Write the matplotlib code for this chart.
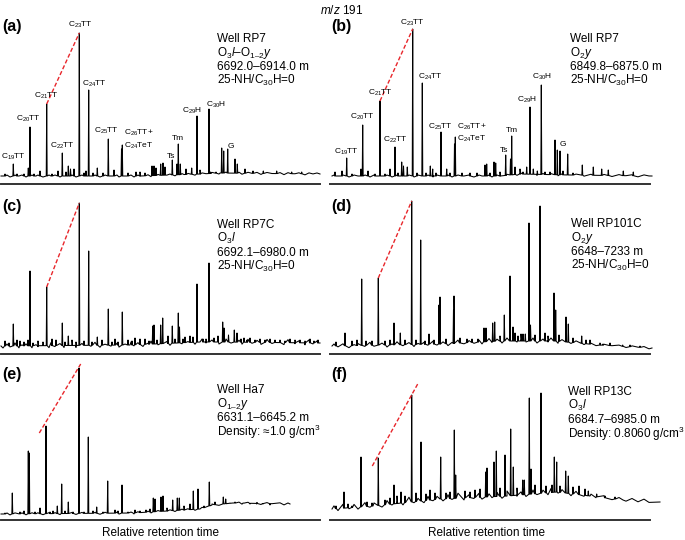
import numpy as np
import matplotlib
matplotlib.use('Agg')
import matplotlib.pyplot as plt

plt.rcParams['font.family'] = ['Liberation Sans', 'DejaVu Sans']
plt.rcParams['mathtext.fontset'] = 'custom'
plt.rcParams['mathtext.rm'] = 'Liberation Sans'
plt.rcParams['mathtext.it'] = 'Liberation Sans:italic'
plt.rcParams['mathtext.bf'] = 'Liberation Sans:bold'

# ---- data (retention, abundance) ----
# (a) Well RP7, O3l-O1-2y
a_base_x = [1, 140, 200, 220, 320]
a_base_y = [8, 8, 10, 11, 10]
a_rt = [5, 13.3, 17, 24, 28.3, 30, 34, 40, 46.7, 52, 58, 62.3, 66, 68.3, 70.5, 74, 79.3, 84, 86, 88.7,
        93, 97.3, 103, 108.3, 114, 121.5, 122.3, 128, 136, 140, 145, 152, 154, 156, 160.7, 163, 165,
        172.3, 177, 178.3, 180.3, 186, 191.7, 197, 200, 209, 210.7, 216, 221.7, 223.7, 227.7, 235,
        237.3, 245, 253, 263.3, 276.7, 291.7, 301.7]
a_h = [10, 20, 10, 10, 16, 57, 10, 13, 80, 10, 13, 31, 12, 18, 15, 15, 151, 11, 13, 94,
       11, 16, 11, 45, 14, 35, 39, 11, 12, 12, 11, 18, 18, 16, 20, 21, 17,
       24, 20, 40, 20, 15, 16, 68, 14, 75, 12, 12, 36, 33, 35, 25,
       20, 15, 13, 13, 13, 12, 12]

# (b) Well RP7, O2y
b_base_x = [-8, 160, 180, 230, 312]
b_base_y = [8, 8, 10, 9, 8]
b_rt = [-5, 2, 6.7, 12, 21, 22.7, 28, 35, 40, 45, 50, 55, 58, 61.7, 63.5, 67.3, 72.7, 77, 82.3, 86,
        90.3, 92.7, 96, 101, 106.7, 110, 114.5, 115.3, 122, 130, 137, 145, 146.7, 150, 154, 155.7,
        160, 165.7, 170.5, 171.7, 175, 180, 183, 186.7, 190, 193.3, 197.3, 201.3, 205, 210, 215,
        217.3, 220, 223, 227.7, 233, 242.3, 253.3, 261.7, 268.3, 283.3, 293.3]
b_h = [12, 13, 26, 10, 15, 59, 13, 10, 83, 10, 15, 37, 11, 22, 18, 17, 155, 11, 101, 11,
       18, 15, 11, 52, 15, 11, 40, 47, 11, 11, 11, 19, 20, 11, 22, 21,
       12, 29, 25, 48, 17, 15, 12, 17, 77, 15, 13, 99, 12, 12, 44,
       34, 33, 13, 30, 11, 19, 17, 15, 14, 13, 12]

# (c) Well RP7C, O3l
c_base_x = [1, 130, 200, 225, 320]
c_base_y = [8, 9, 12, 12, 11]
c_rt = [5, 9, 13.3, 17, 20, 24, 28, 30, 33, 38, 43, 46.7, 52, 56, 62.3, 65, 68.3, 72, 76, 79.3, 84,
        88.7, 92, 97.3, 102, 108.3, 112, 115, 118, 122.3, 128, 132, 135, 140, 145, 149, 152.7, 154,
        157, 160.7, 162.7, 168, 172.3, 175, 178.3, 179.5, 183, 185, 190, 193, 197, 203, 206, 209,
        214, 218, 222.7, 224, 228.5, 234.3, 237, 241, 244, 247, 250, 255, 260, 265, 270, 275, 280,
        285, 290, 295, 300, 305, 310, 314, 318]
c_h = [13, 11, 30, 14, 13, 12, 14, 83, 11, 13, 12, 67, 15, 14, 31, 12, 18, 14, 12, 151, 13,
       103, 12, 17, 14, 45, 12, 15, 12, 42, 14, 13, 16, 15, 15, 13, 28, 29,
       14, 29, 36, 18, 28, 15, 41, 27, 15, 17, 18, 17, 70, 15, 15, 91,
       16, 18, 32, 26, 19, 24, 21, 15, 16, 14, 16, 14, 15, 14, 15, 14, 14,
       13, 15, 14, 14, 13, 15, 13, 14]

# (d) Well RP101C, O2y
d_base_x = [-8, 100, 160, 215, 260, 312]
d_base_y = [8, 10, 13, 13, 9, 6]
d_rt = [-4, 5, 12, 17, 21.7, 26, 32, 38.3, 45, 50, 54, 60.3, 65, 71.7, 76, 80.7, 85, 89, 94, 99,
        100, 106, 113.5, 114, 120, 127, 132, 138, 144, 146, 152.7, 154.7, 160, 164.3, 170, 173,
        175, 178, 181, 183, 185.3, 189, 190.5, 195, 200, 205, 208, 214, 215.7, 219, 226, 228.3,
        233, 241.7, 246, 250, 260, 263, 270, 282.7, 290, 300]
d_h = [12, 21, 13, 14, 75, 13, 13, 76, 13, 14, 31, 21, 14, 153, 14, 114, 13, 20, 14, 49,
       57, 15, 44, 58, 16, 15, 15, 15, 26, 26, 31, 32, 18, 39, 78, 27,
       21, 18, 20, 20, 20, 131, 29, 19, 148, 21, 18, 61, 44, 19, 37, 30,
       16, 18, 14, 14, 11, 10, 11, 9, 9, 8]

# (e) Well Ha7, O1-2y
e_base_x = [1, 133, 167, 200, 212, 233, 290]
e_base_y = [6, 7, 9, 11, 15, 17, 16]
e_rt = [5, 12.3, 20, 24, 28.3, 29.3, 35, 40, 46, 50, 53, 57.3, 61.7, 65, 68.3, 73, 79, 84, 88.3,
        93, 96.7, 103, 107.7, 115, 118, 122, 128, 135, 140, 146, 150, 153.3, 155, 161, 163, 167,
        172.7, 177.3, 179.3, 184, 190, 193.3, 198, 204, 209.3, 215, 223.3, 225.7, 230, 235, 243.3,
        250, 256.7, 263, 270]
e_h = [7, 27, 8, 9, 69, 67, 8, 12, 94, 8, 9, 14, 36, 9, 18, 8, 152, 8, 83,
       9, 13, 8, 39, 10, 9, 35, 8, 10, 9, 10, 11, 22, 21, 23, 24, 12,
       20, 22, 22, 14, 16, 29, 31, 14, 38, 18, 23, 21, 17, 18, 17,
       16, 16, 16, 15]

# (f) Well RP13C, O3l
f_base_x = [-8, 33, 100, 167, 217, 250, 283, 320]
f_base_y = [11, 14, 21, 24, 28, 24, 20, 18]
f_rt = [-4, 4, 8, 12, 21, 27, 32, 38.3, 45, 50, 54, 57, 61, 65, 71.7, 76, 81, 86, 90, 95, 100.7,
        106, 110, 114.3, 115.7, 125, 130, 135, 140, 145.7, 147, 154, 156.3, 160, 165, 170.7, 173.3,
        177, 182.7, 184.3, 189.3, 191, 195, 201, 206, 212, 214.3, 216.7, 220, 225.7, 228.3, 233,
        239, 245, 248.3, 256.7, 265, 275]
f_h = [14, 28, 16, 14, 63, 18, 17, 62, 20, 22, 35, 24, 28, 24, 125, 27, 78, 26, 30, 27, 63,
       27, 28, 90, 45, 29, 28, 30, 31, 48, 52, 58, 69, 32, 65, 91, 53,
       32, 40, 40, 122, 51, 35, 127, 34, 35, 63, 58, 34, 49, 44, 33,
       34, 31, 29, 26, 24, 23]

# baseline roughness (offset from baseline)
wig_left = [3, 7, 10, 15, 19, 22, 26, 32, 36, 38,
            43, 49, 51, 55, 60, 64, 72, 76, 82, 91,
            95, 100, 105, 111, 117, 119, 125, 131, 134, 138,
            143, 148, 151, 158, 167, 170, 175, 182, 184, 188,
            195, 202, 206, 212, 219, 226, 231, 239, 242, 248,
            252, 257, 261, 267, 272, 280, 284, 288, 295, 299,
            305, 309, 313, 317]
wig_ae = [0, 1, -1, 1, 0, 1, -1, 1, 0, 1,
          -1, 1, 0, 1, -1, 0, 1, -1, 1, 0,
          1, -1, 1, 0, 1, -1, 0, 1, -1, 1,
          0, 1, -1, 1, 0, 1, -1, 1, 0, 1,
          -1, 1, 0, 1, -1, 1, 0, 1, -1, 1,
          0, 1, -1, 1, 0, 1, -1, 1, 0, 1,
          -1, 1, 0, 1]
wig_c = [-2, 2, -1, 3, -2, 1, 2, -2, 1, -1,
         2, -2, 3, -1, 2, -2, 1, -2, 2, -1,
         3, -2, 1, -1, 2, -2, 1, 3, -1, 2,
         -2, 1, 3, -1, 2, -2, 3, -1, 2, 1,
         -2, 3, -1, 2, -2, 3, -1, 2, -2, 3,
         -1, 2, -2, 3, -1, 2, -2, 3, -1, 2,
         -2, 3, -1, 2]
wig_right = [-6, -2, 3, 9, 14, 18, 25, 30, 34, 42,
             47, 52, 57, 63, 69, 74, 78, 84, 88, 93,
             97, 103, 108, 112, 118, 124, 129, 134, 139, 142,
             149, 152, 157, 162, 167, 177, 181, 186, 193, 197,
             203, 208, 211, 218, 222, 231, 236, 244, 251, 256,
             264, 272, 279, 286, 292, 298, 304, 309]
wig_b = [1, 0, 1, -1, 1, 0, 1, -1, 1, 0,
         1, -1, 1, 0, 1, -1, 1, 0, 1, -1,
         1, 0, 1, -1, 1, 0, 1, -1, 1, 0,
         1, -1, 1, 0, 1, -1, 1, 0, 1, -1,
         1, 0, 1, -1, 1, 0, 1, -1, 1, 0,
         1, -1, 1, 0, 1, -1, 1, 0]
wig_d = [2, -1, 2, -2, 1, 2, -1, 3, -1, 2,
         -2, 1, 3, -1, 2, -2, 1, 2, -1, 3,
         -1, 2, -2, 1, 3, -1, 2, -1, 2, -2,
         3, -1, 2, -2, 3, -1, 2, -1, 3, -2,
         2, -1, 3, -2, 2, -1, 2, -1, 1, -1,
         1, 0, 1, -1, 1, 0, 1, -1]
wig_f = [3, -2, 4, -1, 3, -2, 4, -1, 3, -2,
         4, -1, 3, -2, 5, -1, 3, -2, 4, -1,
         3, -2, 4, -1, 5, -2, 3, -1, 4, -2,
         3, -1, 4, -2, 5, -1, 3, -2, 4, -1,
         3, -2, 4, -1, 3, -2, 3, -1, 2, -1,
         2, -1, 2, -1, 2, -1, 2, -1]

# peak labels for (a) and (b)
lab_text = [r'C$_{19}$TT', r'C$_{20}$TT', r'C$_{21}$TT', r'C$_{22}$TT', r'C$_{23}$TT', r'C$_{24}$TT',
            r'C$_{25}$TT', r'C$_{26}$TT+', r'C$_{24}$TeT', 'Ts', 'Tm', r'C$_{29}$H', r'C$_{30}$H', 'G']
lab_a_x = [13.3, 28.3, 46.7, 62.3, 80, 94.3, 106.7, 124, 124, 170.7, 178.3, 192.3, 215.7, 231]
lab_a_y = [27, 65, 88, 38, 159, 100, 53, 51, 38, 28, 46, 73, 79, 38]
lab_b_x = [6.7, 22.7, 40, 55, 72.7, 90.7, 100, 116.7, 116.7, 164, 171.7, 186.7, 201.7, 222.7]
lab_b_y = [32, 67, 91, 44, 161, 107, 57, 57, 45, 33, 53, 84, 107, 39]

# red dashed trend C21TT -> C23TT
red_a = ([46.7, 79.3], [80, 151])
red_b = ([40, 72.7], [83, 155])
red_c = ([46.7, 79.3], [67, 151])
red_d = ([38.3, 71.7], [76, 153])
red_e = ([39.3, 80.7], [87, 156])
red_f = ([32.3, 77.7], [54, 136])

info_a = ['Well RP7', r'O$_3\mathit{l}$–O$_{1–2}\mathit{y}$', '6692.0–6914.0 m', r'25-NH/C$_{30}$H=0']
info_b = ['Well RP7', r'O$_2\mathit{y}$', '6849.8–6875.0 m', r'25-NH/C$_{30}$H=0']
info_c = ['Well RP7C', r'O$_3\mathit{l}$', '6692.1–6980.0 m', r'25-NH/C$_{30}$H=0']
info_d = ['Well RP101C', r'O$_2\mathit{y}$', '6648–7233 m', r'25-NH/C$_{30}$H=0']
info_e = ['Well Ha7', r'O$_{1–2}\mathit{y}$', '6631.1–6645.2 m', r'Density: ≈1.0 g/cm$^3$']
info_f = ['Well RP13C', r'O$_3\mathit{l}$', '6684.7–6985.0 m', r'Density: 0.8060 g/cm$^3$']

W, H = 685, 540
fig = plt.figure(figsize=(W / 100, H / 100), dpi=100)


def fx(x):
    return x / W


def fy(y):
    return 1 - y / H


def panel(left, right, axis_y, x0):
    ax = fig.add_axes([fx(left), fy(axis_y), (right - left) / W, 170 / H])
    ax.set_xlim(x0, x0 + right - left)
    ax.set_ylim(0, 170)
    for s in ['top', 'left', 'right']:
        ax.spines[s].set_visible(False)
    ax.spines['bottom'].set_linewidth(1.4)
    ax.spines['bottom'].set_color('#333333')
    ax.set_xticks([])
    ax.set_yticks([])
    ax.patch.set_alpha(0)
    return ax


def trace(ax, rt, h, bx, by, wx, wd):
    pts = list(zip(bx, by))
    for r, t, b in zip(rt, h, np.interp(rt, bx, by)):
        pts += [(r - 0.45, b), (r, t), (r + 0.45, b)]
    for r, d, b in zip(wx, wd, np.interp(wx, bx, by)):
        if bx[0] < r < bx[-1]:
            pts.append((r, b + d))
    pts.sort()
    x, y = zip(*pts)
    ax.plot(x, y, color='black', lw=0.75, clip_on=False)


def red(ax, seg):
    ax.plot(seg[0], seg[1], color='#e8262b', lw=1.0, ls=(0, (3, 1.6)), clip_on=False)


def info(lines, x, y0, dy=13.9):
    for i, t in enumerate(lines):
        fig.text(fx(x), fy(y0 + i * dy), t, fontsize=8.5, ha='left', va='center')


ax_a = panel(1, 320, 184, 1)
ax_b = panel(330, 650, 184, -10)
ax_c = panel(1, 320, 354, 1)
ax_d = panel(330, 650, 354, -10)
ax_e = panel(1, 320, 520, 1)
ax_f = panel(330, 650, 520, -10)

trace(ax_a, a_rt, a_h, a_base_x, a_base_y, wig_left, wig_ae)
trace(ax_b, b_rt, b_h, b_base_x, b_base_y, wig_right, wig_b)
trace(ax_c, c_rt, c_h, c_base_x, c_base_y, wig_left, wig_c)
trace(ax_d, d_rt, d_h, d_base_x, d_base_y, wig_right, wig_d)
trace(ax_e, e_rt, e_h, e_base_x, e_base_y, wig_left, wig_ae)
trace(ax_f, f_rt, f_h, f_base_x, f_base_y, wig_right, wig_f)

for ax, seg in zip([ax_a, ax_b, ax_c, ax_d, ax_e, ax_f], [red_a, red_b, red_c, red_d, red_e, red_f]):
    red(ax, seg)

for ax, lx, ly in [(ax_a, lab_a_x, lab_a_y), (ax_b, lab_b_x, lab_b_y)]:
    for t, x, y in zip(lab_text, lx, ly):
        ha = 'left' if ('+' in t or 'TeT' in t) else 'center'
        ax.text(x, y, t, fontsize=6, ha=ha, va='center', clip_on=False)

info(info_a, 217, 39)
info(info_b, 570, 39)
info(info_c, 217, 225)
info(info_d, 571, 224)
info(info_e, 217, 390)
info(info_f, 568, 392)

for lab, x, y in [('(a)', 2, 27), ('(b)', 331, 27), ('(c)', 2, 207), ('(d)', 331, 207),
                  ('(e)', 2, 375), ('(f)', 331, 375)]:
    fig.text(fx(x), fy(y), lab, fontsize=11.5, fontweight='bold', ha='left', va='center')

fig.text(fx(342), fy(10), r'$\mathit{m/z}$ 191', fontsize=8.5, ha='center', va='center')
fig.text(fx(160), fy(533), 'Relative retention time', fontsize=8.5, ha='center', va='center')
fig.text(fx(487), fy(533), 'Relative retention time', fontsize=8.5, ha='center', va='center')

fig.savefig('out.png', dpi=100)
